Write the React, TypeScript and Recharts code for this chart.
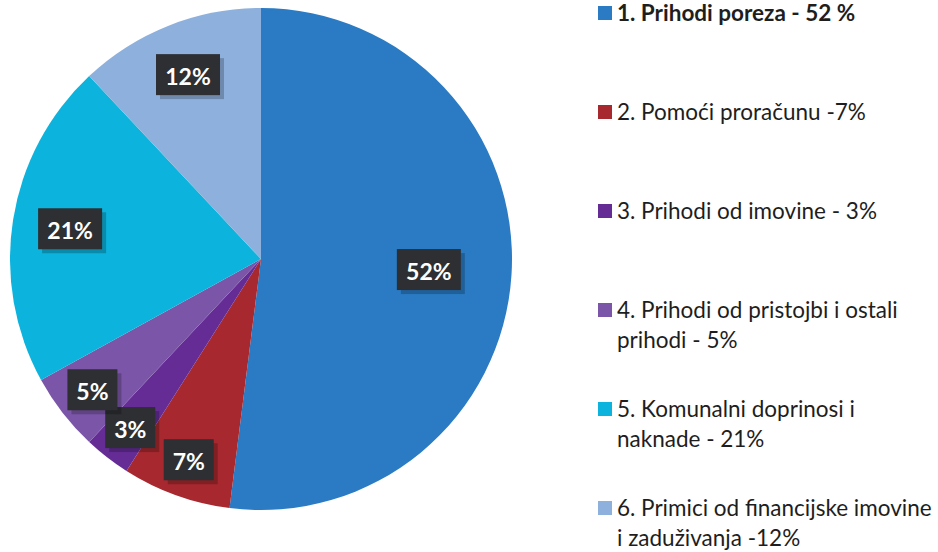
import React from 'react';
import { PieChart, Pie, Cell, Legend } from 'recharts';

const categories = [
  '1. Prihodi poreza - 52 %',
  '2. Pomoći proračunu -7%',
  '3. Prihodi od imovine - 3%',
  '4. Prihodi od pristojbi i ostali prihodi - 5%',
  '5. Komunalni doprinosi i naknade - 21%',
  '6. Primici od financijske imovine i zaduživanja -12%',
];
// legend line breaks as in the original
const legendLines = [
  ['1. Prihodi poreza - 52 %'],
  ['2. Pomoći proračunu -7%'],
  ['3. Prihodi od imovine - 3%'],
  ['4. Prihodi od pristojbi i ostali', 'prihodi - 5%'],
  ['5. Komunalni doprinosi i', 'naknade - 21%'],
  ['6. Primici od financijske imovine', 'i zaduživanja -12%'],
];
const values = [52, 7, 3, 5, 21, 12];
const colors = ['#2a7bc4', '#a7282e', '#652c96', '#7b56a8', '#0cb3dc', '#8db0dc'];

const data = categories.map((name, i) => ({ name, value: values[i] }));

const FONT = 'Lato, "Open Sans", sans-serif';

const renderLabel = (props: any) => {
  const { cx, cy, midAngle, outerRadius, percent } = props;
  const RAD = Math.PI / 180;
  const r = outerRadius * (percent > 0.5 ? 0.67 : percent > 0.15 ? 0.77 : percent < 0.1 ? 0.85 : 0.79);
  const x = cx + r * Math.cos(-midAngle * RAD);
  const y = cy + r * Math.sin(-midAngle * RAD);
  const txt = `${Math.round(percent * 100)}%`;
  const w = txt.length > 2 ? 64 : 50;
  const h = 41;
  return (
    <g>
      <rect x={x - w / 2 + 4} y={y - h / 2 + 4} width={w} height={h} fill="rgba(0,0,0,0.22)" />
      <rect x={x - w / 2} y={y - h / 2} width={w} height={h} fill="#2d2f32" />
      <text x={x} y={y + 1} fill="#fff" textAnchor="middle" dominantBaseline="central"
        fontFamily={FONT} fontWeight={700} fontSize={23}>
        {txt}
      </text>
    </g>
  );
};

const LegendList = () => (
  <div style={{ fontFamily: FONT, fontSize: 22.5, color: '#1e1e1e' }}>
    {legendLines.map((lines, i) => (
      <div key={i} style={{ position: 'absolute', top: i * 99, left: 0, width: 340 }}>
        <span style={{ position: 'absolute', left: 0, top: 3, width: 14, height: 14, background: colors[i] }} />
        {lines.map((l, j) => (
          <div key={j} style={{ marginLeft: 19, marginTop: j ? 10 : 0, lineHeight: '20px', fontWeight: i === 0 ? 700 : 400, whiteSpace: 'nowrap' }}>
            {l}
          </div>
        ))}
      </div>
    ))}
  </div>
);

export default function App() {
  return (
    <div style={{ width: 938, height: 552, background: '#fff', position: 'relative' }}>
      <style>{'body{margin:0}'}</style>
      <PieChart width={938} height={552} margin={{ top: 0, right: 0, bottom: 0, left: 0 }}>
        <Pie
          data={data}
          dataKey="value"
          nameKey="name"
          cx={261}
          cy={259}
          outerRadius={251}
          startAngle={90}
          endAngle={-270}
          stroke="none"
          labelLine={false}
          label={renderLabel}
          isAnimationActive={false}
        >
          {data.map((d, i) => (
            <Cell key={d.name} fill={colors[i]} />
          ))}
        </Pie>
        <Legend
          content={<LegendList />}
          wrapperStyle={{ position: 'absolute', left: 598, top: 3, width: 340 }}
        />
      </PieChart>
    </div>
  );
}
